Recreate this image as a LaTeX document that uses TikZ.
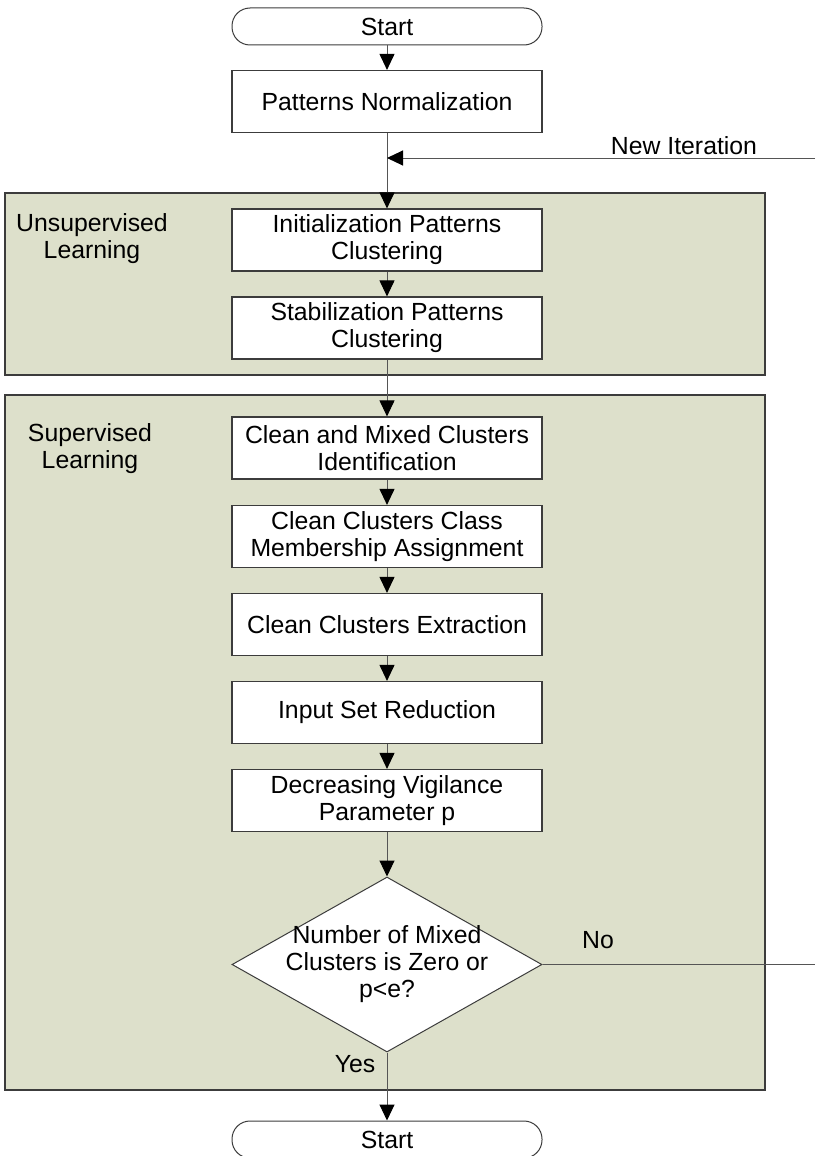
\documentclass[tikz,border=0pt]{standalone}
\usepackage{fontspec}
\setmainfont{Liberation Sans}
\usepackage{tikz}
\usetikzlibrary{arrows.meta,shapes.geometric}
\definecolor{grpfill}{HTML}{DDE0CB}
\definecolor{boxline}{HTML}{3C3C3C}
\definecolor{flowline}{HTML}{555555}

\begin{document}
\begin{tikzpicture}[x=1pt,y=-1pt,
  font=\fontsize{24.8}{27}\selectfont,
  proc/.style={draw=boxline,line width=1.2pt,fill=white,minimum width=310pt,minimum height=62pt,inner sep=0pt,align=center},
  term/.style={draw=boxline,line width=1pt,fill=white,rounded corners=18pt,minimum width=310pt,minimum height=37pt,inner sep=0pt},
  decision/.style={diamond,draw=boxline,line width=1pt,fill=white,minimum width=310pt,minimum height=175pt,inner sep=0pt},
  group/.style={fill=grpfill,draw=boxline,line width=1.2pt},
  flow/.style={draw=flowline,line width=1pt,-{Triangle[width=15pt,length=16pt,color=black]}},
  plain/.style={draw=flowline,line width=1pt},
  txt/.style={inner sep=0pt,align=center}]
        \useasboundingbox (0,0) rectangle (815,1156);
        \fill[white] (0,0) rectangle (815,1156);
        \draw[group] (5,193) rectangle (765,375);
        \draw[group] (5,395) rectangle (765,1090);
        \node[txt] (unsup) at (92,239) {Unsupervised\\Learning};
        \node[txt] (sup) at (90,449) {Supervised\\Learning};
        \node[term] (start) at (387,26.5) {Start};
        \node[proc] (norm) at (387,101.5) {Patterns Normalization};
        \node[proc] (init) at (387,240) {Initialization Patterns\\Clustering};
        \node[proc] (stab) at (387,328) {Stabilization Patterns\\Clustering};
        \node[proc] (ident) at (387,448) {Clean and Mixed Clusters\\Identification};
        \node[proc] (assign) at (387,536.5) {Clean Clusters Class\\Membership Assignment};
        \node[proc] (extract) at (387,624.5) {Clean Clusters Extraction};
        \node[proc] (reduce) at (387,712.5) {Input Set Reduction};
        \node[proc] (vigil) at (387,800.5) {Decreasing Vigilance\\Parameter p};
        \node[decision] (test) at (387,964.5) {};
        \node[txt] (testtxt) at (387,964.5) {Number of Mixed\\Clusters is Zero or\\p<e?};
        \node[term] (stop) at (387,1139.5) {Start};
        \coordinate (iterin) at (815,158);
        \coordinate (noout) at (815,964.5);
        \node[txt] (iterlbl) at (684,146) {New Iteration};
        \node[txt] (nolbl) at (598,940) {No};
        \node[txt] (yeslbl) at (355,1064) {Yes};
        \draw[flow] (start) -- (norm);
        \draw[flow] (norm) -- (init);
        \draw[flow] (iterin) -- (iterin -| norm);
        \draw[flow] (init) -- (stab);
        \draw[flow] (stab) -- (ident);
        \draw[flow] (ident) -- (assign);
        \draw[flow] (assign) -- (extract);
        \draw[flow] (extract) -- (reduce);
        \draw[flow] (reduce) -- (vigil);
        \draw[flow] (vigil) -- (test);
        \draw[flow] (test) -- (stop);
        \draw[plain] (test.east) -- (noout);
\end{tikzpicture}
\end{document}
